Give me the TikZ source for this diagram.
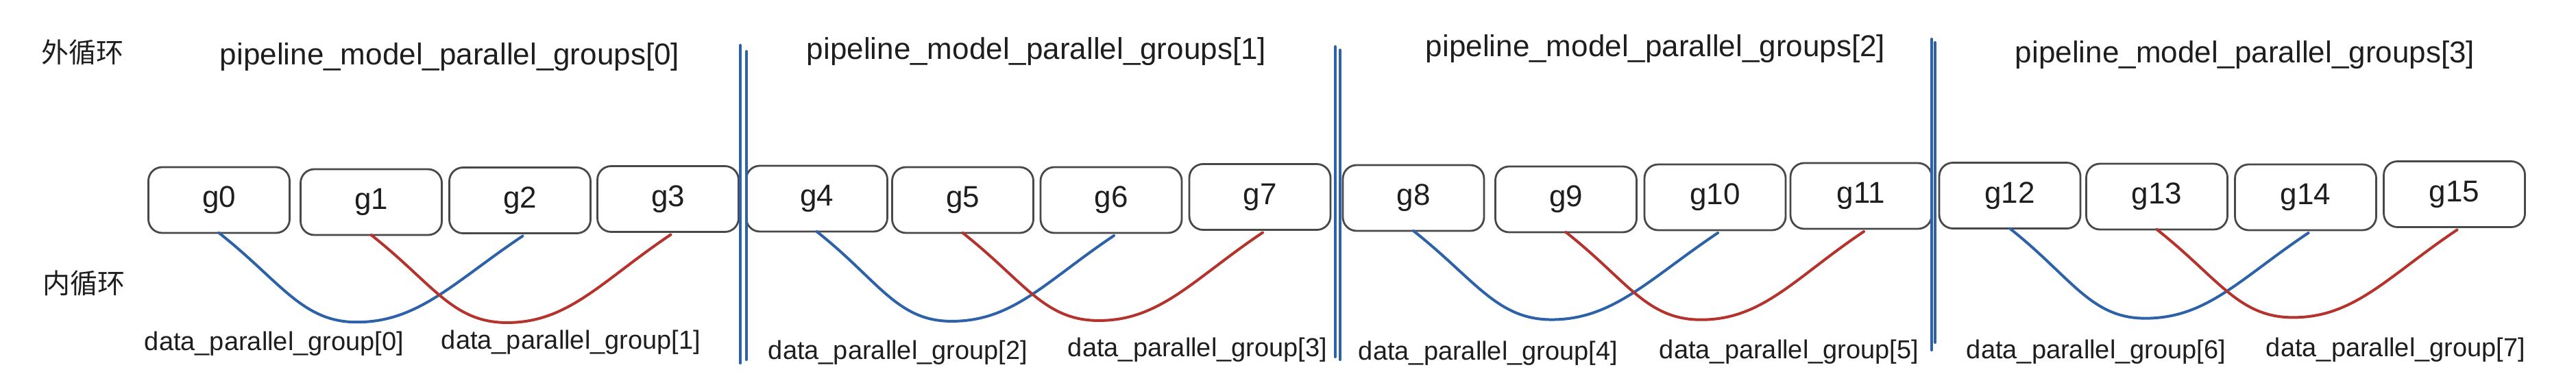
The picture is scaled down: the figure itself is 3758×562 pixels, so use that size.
\documentclass[tikz,border=0pt]{standalone}
\usepackage{fontspec}
\setmainfont{Liberation Sans}
\newfontfamily\cjk{Noto Sans CJK SC}
\usetikzlibrary{calc}
\definecolor{ink}{HTML}{1E1E1E}
\definecolor{boxgray}{HTML}{484848}
\definecolor{cblue}{HTML}{2D62A9}
\definecolor{cred}{HTML}{B5332D}
\begin{document}
\begin{tikzpicture}[x=0.5pt,y=-0.5pt,
  box/.style={draw=boxgray, line width=1.4pt, rounded corners=10pt,
    minimum width=103pt, minimum height=48pt, inner sep=0pt, outer sep=0pt,
    text=ink, font=\fontsize{22}{26}\selectfont},
  title/.style={text=ink, anchor=base, inner sep=0pt, font=\fontsize{22}{26}\selectfont},
  grp/.style={text=ink, anchor=base, inner sep=0pt, font=\fontsize{19}{23}\selectfont},
  cjklab/.style={text=ink, inner sep=0pt, font=\cjk\fontsize{20}{24}\selectfont},
  curve/.style={line width=2pt, line cap=round},
  sepline/.style={draw=cblue, line width=2pt, line cap=round}]
\useasboundingbox (0,0) rectangle (3758,562);

% row labels
\node[cjklab] (outer) at (120,76) {外循环};
\node[cjklab] (inner) at (122,413) {内循环};

% titles
\node[title] (t0) at (656,94) {pipeline\_model\_parallel\_groups[0]};
\node[title] (t1) at (1512,86) {pipeline\_model\_parallel\_groups[1]};
\node[title] (t2) at (2415,82) {pipeline\_model\_parallel\_groups[2]};
\node[title] (t3) at (3275,91) {pipeline\_model\_parallel\_groups[3]};

% boxes
\node[box] (g0) at (319.5,292) {g0};
\node[box] (g1) at (541.5,295) {g1};
\node[box] (g2) at (758.5,292.5) {g2};
\node[box] (g3) at (974.5,290.5) {g3};
\node[box] (g4) at (1191.5,290) {g4};
\node[box] (g5) at (1404.5,292) {g5};
\node[box] (g6) at (1621,292) {g6};
\node[box] (g7) at (1838,287.5) {g7};
\node[box] (g8) at (2062,289) {g8};
\node[box] (g9) at (2284.5,291) {g9};
\node[box] (g10) at (2502,288) {g10};
\node[box] (g11) at (2715,286) {g11};
\node[box] (g12) at (2932,285.5) {g12};
\node[box] (g13) at (3146.5,287) {g13};
\node[box] (g14) at (3363.5,288) {g14};
\node[box] (g15) at (3580.5,283.5) {g15};

% separators
\draw[sepline] (1080,66) -- (1080,530);
\draw[sepline] (1089,75) -- (1089,525);
\draw[sepline] (1948,68) -- (1948,521);
\draw[sepline] (1955,73) -- (1955,525);
\draw[sepline] (2818,57) -- (2818,511);
\draw[sepline] (2823,62) -- (2823,500);

% data parallel curves
\foreach \s/\e/\col in {0/2/cblue,1/3/cred,4/6/cblue,5/7/cred,8/10/cblue,9/11/cred,12/14/cblue,13/15/cred}
  \draw[curve,draw=\col] (g\s.south) .. controls +(90,71) and +(-80,0) ..
    ($(g\s.south)!0.458!(g\e.south)+(0,130)$) coordinate (m\s)
    .. controls +(90,0) and +(-100,67) .. ($(g\e.south)+(4,4)$);

% group labels
\node[grp] (d0) at (400,511) {data\_parallel\_group[0]};
\node[grp] (d1) at (833,509) {data\_parallel\_group[1]};
\node[grp] (d2) at (1310,524) {data\_parallel\_group[2]};
\node[grp] (d3) at (1747,520) {data\_parallel\_group[3]};
\node[grp] (d4) at (2171,525) {data\_parallel\_group[4]};
\node[grp] (d5) at (2610,523) {data\_parallel\_group[5]};
\node[grp] (d6) at (3058,523) {data\_parallel\_group[6]};
\node[grp] (d7) at (3495,520) {data\_parallel\_group[7]};
\end{tikzpicture}
\end{document}
